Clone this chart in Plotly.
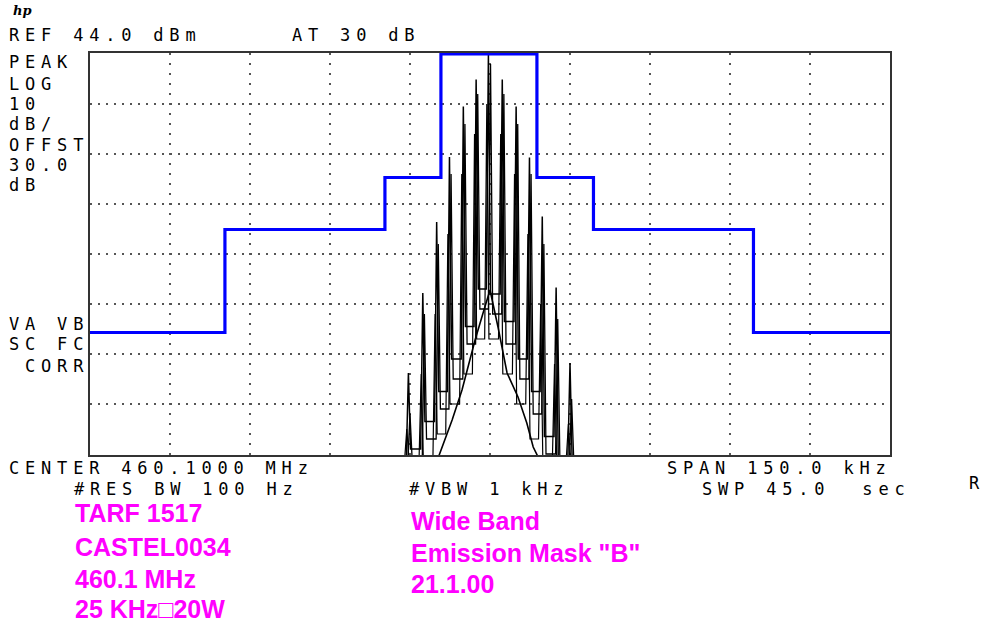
import plotly.graph_objects as go

# ---------------- data ----------------
# Emission mask "B" (frequency offset from centre in kHz, level in dBm)
mask_khz = [-75, -49.7, -19.7, -9.2, 8.8, 19.4, 49.4, 75]
mask_dbm = [-11.7, 8.9, 19.3, 44.0, 19.3, 8.9, -11.7, -11.7]

# Spectral comb lines, sweep 1
spike_khz = [-15.3, -12.6, -10.0, -7.6, -5.0, -2.6, -0.3, 2.3, 4.9, 7.4, 9.8, 12.4, 15.0]
spike_dbm = [-19.8, -3.8, 10.4, 23.4, 33.5, 38.9, 43.8, 38.9, 33.5, 23.3, 11.5, -2.7, -17.8]
floor_dbm = [-37, -35, -29.5, -23.5, -17, -10.5, -3, -4, -9.5, -17, -23.5, -32.5, -37, -37]

# Spectral comb lines, sweep 2
spike2_khz = [-15.0, -12.3, -9.7, -7.3, -4.7, -2.3, 0.1, 2.6, 5.2, 7.7, 10.1, 12.7, 15.3]
spike2_dbm = [-28, -8, 6, 20, 30, 36, 42, 36, 30, 20, 6, -9, -25]
floor2_dbm = [-37, -37, -33, -27, -21, -14, -7, -8, -14, -21, -28, -36, -37, -37]

# Spectral comb lines, sweep 3
spike3_khz = [-15.6, -12.9, -10.3, -7.9, -5.3, -2.9, -0.6, 2.0, 4.6, 7.1, 9.5, 12.1, 14.7]
spike3_dbm = [-31, -20, -8, 8, 20, 28, 34, 28, 20, 8, -6, -18, -30]
floor3_dbm = [-37, -37, -37, -32, -26, -20, -13, -13, -20, -26, -33, -37, -37, -37]

# Lower (carrier-only) envelope
env_khz = [-9.8, -9.4, -7.1, -5.25, -4.1, -2.8, -1.3, 0.0, 1.5, 3.2, 5.25, 6.9, 8.1, 8.8, 9.2]
env_dbm = [-37, -35.8, -29.2, -23.2, -18.6, -13.2, -7.8, -3.2, -10.6, -19.8, -24.6, -29.8, -34.6, -36, -37]

# Screen annotations
top_labels = ["REF 44.0 dBm", "AT 30 dB"]
left_labels = ["PEAK", "LOG", "10", "dB/", "OFFST", "30.0", "dB"]
left_labels2 = ["VA VB", "SC FC", " CORR"]
bottom_labels = ["CENTER 460.1000 MHz", "SPAN 150.0 kHz", "#RES BW 100 Hz", "#VBW 1 kHz", "SWP 45.0  sec", "R"]
note_left = ["TARF 1517", "CASTEL0034", "460.1 MHz", "25 KHz\u25a120W"]
note_right = ["Wide Band", "Emission Mask \"B\"", "21.1.00"]

# ---------------- geometry ----------------
W, H = 984, 626
ML, MR, MT, MB = 90, 94, 53, 171
PW, PH = W - ML - MR, H - MT - MB
SKIRT = 0.4  # half width of a line's skirt, kHz


def comb_path(fs, ps, fl):
    xs, ys = [], []
    for i, (f, p) in enumerate(zip(fs, ps)):
        xs += [f - SKIRT, f, f + SKIRT]
        ys += [fl[i], p, fl[i + 1]]
    return xs, ys


fig = go.Figure()

for fs, ps, fl, wd in [(spike3_khz, spike3_dbm, floor3_dbm, 1.2),
                       (spike2_khz, spike2_dbm, floor2_dbm, 1.3),
                       (spike_khz, spike_dbm, floor_dbm, 1.5)]:
    cx, cy = comb_path(fs, ps, fl)
    fig.add_trace(go.Scatter(x=cx, y=cy, mode="lines", line=dict(color="black", width=wd), hoverinfo="skip"))
fig.add_trace(go.Scatter(x=env_khz, y=env_dbm, mode="lines", line=dict(color="black", width=1.6), hoverinfo="skip"))
fig.add_trace(go.Scatter(x=mask_khz, y=mask_dbm, mode="lines", line=dict(color="#0000ff", width=3.2, shape="hv"), hoverinfo="skip"))


def px(x, y):
    return (x - ML) / PW, (MT + PH - y) / PH


MONO = "DejaVu Sans Mono"
MONO_SIZE = 17
LS = 5.8
annotations = []


def mono(text, x, y, size=MONO_SIZE, ls=LS):
    t = text.replace(" ", "\u00a0")
    ax, ay = px(x, y)
    annotations.append(dict(
        text=f'<span style="letter-spacing:{ls}px">{t}</span>', x=ax, y=ay,
        xref="paper", yref="paper", xanchor="left", yanchor="middle", showarrow=False,
        font=dict(family=MONO, size=size, color="black"), borderpad=0))


def note(text, x, y):
    ax, ay = px(x, y)
    annotations.append(dict(
        text=f"<b>{text}</b>", x=ax, y=ay, xref="paper", yref="paper",
        xanchor="left", yanchor="middle", showarrow=False,
        font=dict(family="Liberation Sans", size=25, color="#ff00ff"), borderpad=0))


# hp logo
ax, ay = px(12, 11)
annotations.append(dict(text="<i><b>hp</b></i>", x=ax, y=ay, xref="paper", yref="paper",
                        xanchor="left", yanchor="middle", showarrow=False,
                        font=dict(family="DejaVu Serif", size=13, color="black"), borderpad=0))

mono(top_labels[0], 8, 35)
mono(top_labels[1], 291, 35)
for lab, yy in zip(left_labels, [61.5, 83.7, 104, 124, 145, 165, 185]):
    mono(lab, 8, yy)
for lab, yy in zip(left_labels2, [324, 344, 366]):
    mono(lab, 8, yy)
mono(bottom_labels[0], 8, 468)
mono(bottom_labels[1], 666, 468)
mono(bottom_labels[2], 73, 489)
mono(bottom_labels[3], 408, 489)
mono(bottom_labels[4], 701, 489)
mono(bottom_labels[5], 968, 483)

for lab, yy in zip(note_left, [513, 546.5, 578.5, 608.5]):
    note(lab, 74, yy)
for lab, yy in zip(note_right, [521, 553, 584]):
    note(lab, 410, yy)

grid_col = "#555555"
fig.update_layout(
    width=W, height=H, margin=dict(l=ML, r=MR, t=MT, b=MB),
    paper_bgcolor="white", plot_bgcolor="white", showlegend=False,
    annotations=annotations,
    xaxis=dict(range=[-75, 75], tick0=-75, dtick=15, showticklabels=False, ticks="",
               showgrid=True, gridcolor=grid_col, gridwidth=1.6, griddash="1.6px,8.4px",
               zeroline=False, showline=True, mirror=True, linecolor="#333333", linewidth=2),
    yaxis=dict(range=[-36.2, 44.2], tickvals=[-26, -16, -6, 4, 14, 24, 34], showticklabels=False, ticks="",
               showgrid=True, gridcolor=grid_col, gridwidth=1.6, griddash="1.6px,6.4px",
               zeroline=False, showline=True, mirror=True, linecolor="#333333", linewidth=2),
)

fig.write_html("out.html", config={"displayModeBar": False},
               post_script="document.body.style.margin='0px';")
